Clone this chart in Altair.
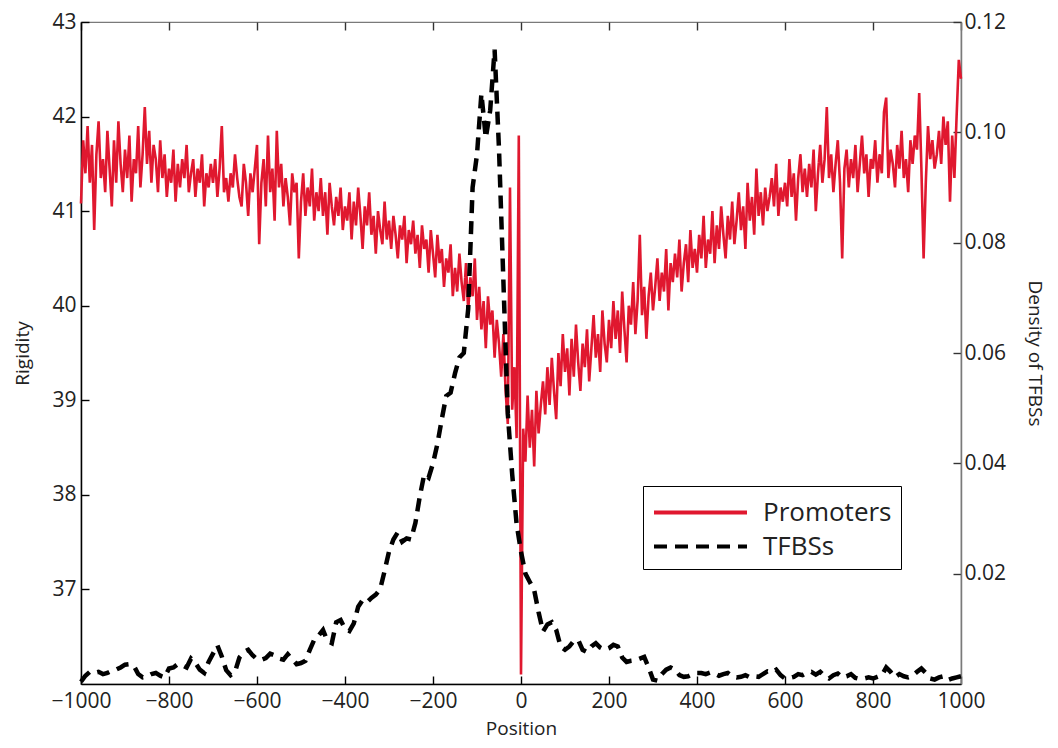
import altair as alt
import pandas as pd

# ---------------- data ----------------
red_pos = list(range(-1000, 1001, 5))
red_vals = [
    41.08, 41.75, 41.40, 41.90, 41.30, 41.70, 40.80, 41.60, 41.95, 41.35,
    41.55, 41.20, 41.85, 41.45, 41.05, 41.75, 41.30, 41.95, 41.50, 41.20,
    41.65, 41.35, 41.80, 41.10, 41.55, 41.40, 41.90, 41.25, 41.60, 42.10,
    41.50, 41.85, 41.30, 41.70, 41.55, 41.20, 41.75, 41.35, 41.60, 41.15,
    41.45, 41.30, 41.65, 41.10, 41.50, 41.25, 41.55, 41.35, 41.70, 41.20,
    41.40, 41.55, 41.15, 41.45, 41.30, 41.60, 41.05, 41.40, 41.25, 41.50,
    41.30, 41.55, 41.15, 41.45, 41.90, 41.20, 41.35, 41.10, 41.40, 41.25,
    41.60, 41.35, 41.15, 41.05, 41.50, 41.30, 40.95, 41.40, 41.20, 41.45,
    41.70, 40.65, 41.30, 41.55, 41.05, 41.80, 41.20, 41.45, 40.90, 41.85,
    41.25, 41.50, 41.05, 41.35, 41.15, 40.85, 41.40, 41.20, 41.30, 40.50,
    41.10, 41.40, 40.95, 41.25, 41.05, 41.45, 40.90, 41.20, 41.00, 41.35,
    40.95, 41.20, 40.75, 41.30, 41.05, 40.85, 41.15, 40.95, 41.25, 40.80,
    41.05, 40.90, 41.20, 40.70, 41.10, 40.85, 41.25, 40.95, 40.60, 41.05,
    40.85, 41.20, 40.75, 40.95, 40.55, 41.00, 40.80, 40.65, 41.10, 40.70,
    40.90, 40.60, 40.95, 40.75, 40.50, 40.85, 40.70, 40.95, 40.45, 40.80,
    40.65, 40.90, 40.55, 40.75, 40.40, 40.85, 40.60, 40.70, 40.35, 40.80,
    40.55, 40.30, 40.75, 40.45, 40.60, 40.20, 40.50, 40.35, 40.65, 40.10,
    40.40, 40.15, 40.55, 40.25, 40.05, 40.45, 39.95, 40.30, 40.10, 40.50,
    39.85, 40.20, 39.75, 40.05, 39.55, 40.10, 39.80, 39.95, 39.45, 39.85,
    39.60, 39.25, 39.70, 39.10, 38.75, 41.25, 38.90, 39.35, 38.60, 41.80,
    36.10, 38.70, 38.35, 39.05, 38.50, 38.90, 38.30, 39.10, 38.65, 38.95,
    39.20, 38.85, 39.35, 38.95, 39.45, 39.10, 38.80, 39.50, 39.15, 39.70,
    39.30, 39.55, 39.05, 39.65, 39.25, 39.80, 39.40, 39.10, 39.60, 39.35,
    39.75, 39.20, 39.55, 39.90, 39.45, 39.70, 39.30, 39.95, 39.60, 39.40,
    39.85, 39.55, 40.05, 39.65, 39.95, 39.50, 40.15, 39.75, 39.40, 40.00,
    39.80, 40.25, 39.70, 40.05, 40.75, 39.90, 40.20, 39.65, 40.10, 40.35,
    39.95, 40.20, 40.50, 40.05, 40.35, 40.15, 40.60, 39.95, 40.45, 40.25,
    40.55, 40.30, 40.70, 40.15, 40.45, 40.65, 40.25, 40.80, 40.40, 40.60,
    40.35, 40.75, 40.50, 40.95, 40.40, 40.70, 40.55, 41.00, 40.45, 40.85,
    40.60, 41.05, 40.75, 40.50, 40.95, 40.70, 41.10, 40.65, 40.90, 41.20,
    40.80, 41.05, 40.60, 41.30, 40.90, 41.15, 40.75, 41.45, 40.95, 41.20,
    40.85, 41.25, 41.00, 41.15, 41.35, 41.05, 41.50, 40.95, 41.25, 41.10,
    41.30, 41.05, 41.55, 41.15, 41.40, 40.90, 41.35, 41.60, 41.20, 41.45,
    41.15, 41.50, 41.25, 41.65, 41.00, 41.40, 41.70, 41.30, 41.55, 42.10,
    41.35, 41.60, 41.20, 41.50, 41.75, 41.30, 40.50, 41.45, 41.65, 41.25,
    41.55, 41.35, 41.70, 41.20, 41.50, 41.80, 41.40, 41.60, 41.15, 41.55,
    41.45, 41.75, 41.30, 41.60, 41.40, 42.05, 42.20, 41.35, 41.65, 41.50,
    41.25, 41.70, 41.45, 41.85, 41.35, 41.55, 41.20, 41.75, 41.50, 41.80,
    41.65, 42.25, 41.45, 40.50, 41.30, 41.90, 41.55, 41.75, 41.45, 41.60,
    41.85, 41.50, 42.00, 41.70, 41.95, 41.10, 41.80, 41.35, 42.00, 42.60,
    42.40,
]

tfbs_pos = list(range(-1000, 1001, 10))
tfbs_vals = [
    0.0004, 0.0015, 0.0022, 0.0020, 0.0022, 0.0018, 0.0020, 0.0024, 0.0026, 0.0030,
    0.0035, 0.0036, 0.0033, 0.0018, 0.0012, 0.0014, 0.0018, 0.0020, 0.0015, 0.0012,
    0.0028, 0.0030, 0.0036, 0.0034, 0.0030, 0.0046, 0.0038, 0.0026, 0.0020, 0.0040,
    0.0055, 0.0070, 0.0050, 0.0025, 0.0016, 0.0022, 0.0048, 0.0058, 0.0062, 0.0052,
    0.0045, 0.0044, 0.0047, 0.0055, 0.0052, 0.0046, 0.0044, 0.0054, 0.0045, 0.0036,
    0.0038, 0.0042, 0.0062, 0.0080, 0.0088, 0.0098, 0.0078, 0.0074, 0.0112, 0.0116,
    0.0100, 0.0096, 0.0110, 0.0140, 0.0152, 0.0148, 0.0156, 0.0162, 0.0172, 0.0205,
    0.0240, 0.0262, 0.0275, 0.0258, 0.0264, 0.0262, 0.0292, 0.0340, 0.0380, 0.0374,
    0.0400, 0.0435, 0.0480, 0.0522, 0.0528, 0.0563, 0.0592, 0.0600, 0.0680, 0.0900,
    0.0960, 0.1070, 0.0990, 0.1040, 0.1150, 0.0970, 0.0730, 0.0490, 0.0380, 0.0290,
    0.0240, 0.0200, 0.0185, 0.0170, 0.0130, 0.0095, 0.0108, 0.0112, 0.0098, 0.0068,
    0.0062, 0.0068, 0.0078, 0.0080, 0.0062, 0.0058, 0.0068, 0.0074, 0.0066, 0.0062,
    0.0065, 0.0071, 0.0068, 0.0048, 0.0040, 0.0042, 0.0043, 0.0046, 0.0049, 0.0030,
    0.0008, 0.0006, 0.0018, 0.0026, 0.0030, 0.0026, 0.0016, 0.0013, 0.0014, 0.0018,
    0.0020, 0.0020, 0.0018, 0.0021, 0.0019, 0.0015, 0.0018, 0.0020, 0.0014, 0.0012,
    0.0013, 0.0016, 0.0012, 0.0014, 0.0013, 0.0018, 0.0023, 0.0021, 0.0026, 0.0016,
    0.0010, 0.0011, 0.0013, 0.0018, 0.0016, 0.0020, 0.0022, 0.0017, 0.0022, 0.0014,
    0.0010, 0.0016, 0.0019, 0.0012, 0.0014, 0.0018, 0.0011, 0.0009, 0.0010, 0.0012,
    0.0010, 0.0013, 0.0016, 0.0030, 0.0022, 0.0012, 0.0018, 0.0014, 0.0012, 0.0015,
    0.0022, 0.0028, 0.0020, 0.0010, 0.0008, 0.0012, 0.0014, 0.0007, 0.0010, 0.0012,
    0.0014,
]

series_names = ["Promoters", "TFBSs"]
x_ticks = [-1000, -800, -600, -400, -200, 0, 200, 400, 600, 800, 1000]
rig_ticks = [37, 38, 39, 40, 41, 42, 43]
dens_ticks = [0.02, 0.04, 0.06, 0.08, 0.10, 0.12]

# ---------------- styling ----------------
RED = "#e0182f"
FONT = "Open Sans"
TXT = "#222222"
W, H = 880, 662

red_df = pd.DataFrame({"Position": red_pos, "Rigidity": red_vals, "series": series_names[0]})
tf_df = pd.DataFrame({"Position": tfbs_pos, "Density": tfbs_vals, "series": series_names[1]})

xscale = alt.Scale(domain=[-1000, 1000], nice=False, zero=False)
rig_scale = alt.Scale(domain=[36, 43], nice=False, zero=False)
den_scale = alt.Scale(domain=[0, 0.12], nice=False, zero=False)
color_scale = alt.Scale(domain=series_names, range=[RED, "black"])
dash_scale = alt.Scale(domain=series_names, range=[[1, 0], [13, 8]])

legend = alt.Legend(
    title=None, orient="none", legendX=562, legendY=464,
    symbolType="M-3,0H3", symbolSize=961, symbolStrokeWidth=4, symbolOffset=31,
    labelFontSize=26, labelFont=FONT, labelColor=TXT,
    strokeColor="black", fillColor="white", padding=9,
    labelOffset=45, rowPadding=3,
)

# labelled axes (no ticks; inward ticks come from the tick-only axes below)
x_bottom = alt.Axis(
    orient="bottom", values=x_ticks, format="d", ticks=False, labelFlush=False,
    labelPadding=6, title="Position", titlePadding=8,
    domainColor="black", domainWidth=1.5, grid=False,
)
y_left = alt.Axis(
    orient="left", values=rig_ticks, format="d", ticks=False,
    labelPadding=5, title="Rigidity", titlePadding=19,
    domainColor="black", domainWidth=1.5, grid=False,
)
y_right = alt.Axis(
    orient="right", values=dens_ticks, format=".2f", ticks=False,
    labelPadding=3, title="Density of TFBSs", titlePadding=19,
    domainColor="#7a7a7a", domainWidth=1.5, grid=False,
)

# tick-only axes, shifted across the plot so that their ticks point inward
x_ticks_bottom = alt.Axis(
    orient="top", offset=-H, values=x_ticks, labels=False, title="",
    domain=False, ticks=True, tickSize=8, tickWidth=1.4, tickColor="black", grid=False,
)
x_ticks_top = alt.Axis(
    orient="bottom", offset=-H, values=x_ticks, labels=False, title="",
    domain=False, ticks=True, tickSize=8, tickWidth=1.4, tickColor="#333333", grid=False,
)
y_ticks_left = alt.Axis(
    orient="right", offset=-W, values=rig_ticks, labels=False, title="",
    domain=False, ticks=True, tickSize=8, tickWidth=1.4, tickColor="black", grid=False,
)
y_ticks_right = alt.Axis(
    orient="left", offset=-W, values=dens_ticks, labels=False, title="",
    domain=False, ticks=True, tickSize=8, tickWidth=1.4, tickColor="#333333", grid=False,
)

red = alt.Chart(red_df).mark_line(strokeWidth=2.6).encode(
    x=alt.X("Position:Q", scale=xscale, axis=x_bottom),
    y=alt.Y("Rigidity:Q", scale=rig_scale, axis=y_left),
    color=alt.Color("series:N", scale=color_scale, legend=legend),
    strokeDash=alt.StrokeDash("series:N", scale=dash_scale, legend=legend),
)

black = alt.Chart(tf_df).mark_line(strokeWidth=4.5, strokeCap="butt").encode(
    x=alt.X("Position:Q", scale=xscale, axis=x_ticks_bottom),
    y=alt.Y("Density:Q", scale=den_scale, axis=y_right),
    color=alt.Color("series:N", scale=color_scale, legend=legend),
    strokeDash=alt.StrokeDash("series:N", scale=dash_scale, legend=legend),
)

red_ticks = alt.Chart(red_df).mark_line(strokeOpacity=0).encode(
    x=alt.X("Position:Q", scale=xscale, axis=x_ticks_top),
    y=alt.Y("Rigidity:Q", scale=rig_scale, axis=y_ticks_left),
)

black_ticks = alt.Chart(tf_df).mark_line(strokeOpacity=0).encode(
    x=alt.X("Position:Q", scale=xscale, axis=None),
    y=alt.Y("Density:Q", scale=den_scale, axis=y_ticks_right),
)

chart = (
    alt.layer(red_ticks, black_ticks, red, black)
    .resolve_scale(y="independent")
    .resolve_axis(x="independent", y="independent")
    .properties(
        width=W, height=H,
        autosize=alt.AutoSizeParams(type="none"),
        padding={"left": 73, "top": 14, "right": 89, "bottom": 56},
        background="white",
    )
    .configure_view(stroke="#7a7a7a", strokeWidth=1.2)
    .configure_axis(
        labelFont=FONT, titleFont=FONT, labelColor=TXT, titleColor=TXT,
        titleFontWeight="normal", labelFontSize=21, titleFontSize=19,
    )
)

chart.save("out.html", embed_options={"renderer": "svg", "actions": False})
